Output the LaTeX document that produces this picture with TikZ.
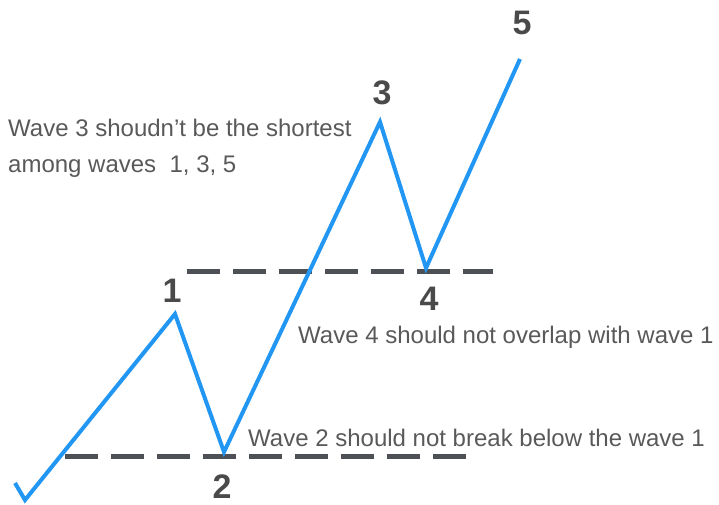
\documentclass[tikz,border=0pt]{standalone}
\usepackage{fontspec}
\setmainfont{Liberation Sans}
\usepackage{xcolor}
\definecolor{waveblue}{RGB}{33,150,243}
\definecolor{levelgray}{RGB}{77,80,84}
\definecolor{notegray}{RGB}{89,89,89}
\definecolor{numgray}{RGB}{74,74,74}
\usetikzlibrary{positioning}
\tikzset{
  wave/.style={draw=waveblue, line width=4pt, line join=miter},
  level/.style={draw=levelgray, line width=5pt, dash pattern=on 33pt off 13pt},
  count/.style={inner sep=0pt, text=numgray,
    font=\fontsize{34}{40}\selectfont\bfseries},
  note/.style={inner sep=0pt, text=notegray, align=left,
    font=\fontsize{24}{36}\selectfont},
}

\begin{document}
\begin{tikzpicture}[x=1pt, y=-1pt]
  \useasboundingbox (0,0) rectangle (719,504);

  % Turning points of the impulse
  \coordinate (w0) at (15,483);
  \coordinate (wlow) at (25,500);
  \coordinate (w1) at (175,314);
  \coordinate (w2) at (224,452);
  \coordinate (w3) at (380,122);
  \coordinate (w4) at (426,268);
  \coordinate (w5) at (520,59);

  % Reference levels
  \coordinate (lowA) at (65,456);
  \coordinate (lowB) at (467,456);
  \coordinate (highA) at (187,271);
  \coordinate (highB) at (493,271);
  \draw[level] (lowA) -- (lowB);
  \draw[level] (highA) -- (highB);

  % The wave itself
  \draw[wave] (w0) -- (wlow) -- (w1) -- (w2) -- (w3) -- (w4) -- (w5);

  % Wave counts
  \node[count] (n1) at (172,291) {1};
  \node[count] (n2) at (222,487) {2};
  \node[count] (n3) at (382,93) {3};
  \node[count] (n4) at (429,299) {4};
  \node[count] (n5) at (522,23) {5};

  % Rules
  \node[note, anchor=north west] (rule3) at (8,119)
    {Wave 3 shoudn’t be the shortest\\among waves\ \ 1, 3, 5};
  \node[note, anchor=base west] (rule4) at (298,343)
    {Wave 4 should not overlap with wave 1};
  \node[note, anchor=base west] (rule2) at (248,446)
    {Wave 2 should not break below the wave 1};
\end{tikzpicture}
\end{document}
